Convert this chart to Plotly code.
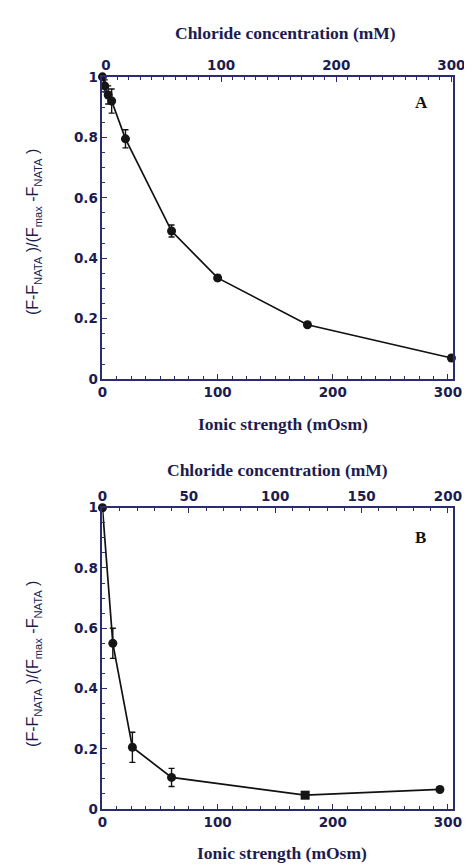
import plotly.graph_objects as go

# Panel A data
ionic_a = [0, 2, 5, 8, 20, 60, 100, 178, 303]
frac_a = [1.0, 0.97, 0.94, 0.92, 0.795, 0.49, 0.335, 0.18, 0.07]
err_a = [0, 0.02, 0.03, 0.04, 0.03, 0.02, 0.01, 0.0, 0.0]

# Panel B data
ionic_b = [0, 9, 26, 60, 176, 293]
frac_b = [1.0, 0.55, 0.205, 0.105, 0.046, 0.065]
err_b = [0, 0.05, 0.05, 0.03, 0, 0]
symbols_b = ["circle", "circle", "circle", "circle", "square", "circle"]

ionic_ticks = [0, 100, 200, 300]
chloride_ticks_a = [0, 100, 200, 300]
chloride_ticks_b = [0, 50, 100, 150, 200]
y_ticks = [0, 0.2, 0.4, 0.6, 0.8, 1]
y_ticktext = ["0", "0.2", "0.4", "0.6", "0.8", "1"]

W, H = 472, 865
TXT = "#1c1c50"
AX = "#2b2b70"

fig = go.Figure()

fig.add_trace(go.Scatter(
    x=ionic_a, y=frac_a, mode="lines+markers", xaxis="x", yaxis="y",
    line=dict(color="#111111", width=1.7),
    marker=dict(color="#151515", size=9, symbol="circle"),
    error_y=dict(type="data", array=err_a, color="#111111", thickness=1.4, width=3),
    cliponaxis=False, showlegend=False))
fig.add_trace(go.Scatter(x=[0], y=[0], xaxis="x2", yaxis="y", mode="markers",
                         marker=dict(opacity=0), showlegend=False, hoverinfo="skip"))

fig.add_trace(go.Scatter(
    x=ionic_b, y=frac_b, mode="lines+markers", xaxis="x3", yaxis="y2",
    line=dict(color="#111111", width=1.7),
    marker=dict(color="#151515", size=9, symbol=symbols_b),
    error_y=dict(type="data", array=err_b, color="#111111", thickness=1.4, width=3),
    cliponaxis=False, showlegend=False))
fig.add_trace(go.Scatter(x=[0], y=[0], xaxis="x4", yaxis="y2", mode="markers",
                         marker=dict(opacity=0), showlegend=False, hoverinfo="skip"))

dom_x = [93 / W, 457 / W]
dom_a = [1 - 370 / H, 1 - 62 / H]
dom_b = [1 - 808 / H, 1 - 501 / H]

tickfont = dict(family="DejaVu Sans", size=13.5, color=TXT, weight="bold")

def xax(rng, tickvals, ticktext, side, anchor, overlaying=None, minor_dt=10):
    d = dict(range=rng, domain=dom_x, anchor=anchor, side=side,
             tickmode="array", tickvals=tickvals, ticktext=ticktext,
             ticks="inside", ticklen=5, tickwidth=1.2, tickcolor=AX,
             showline=True, linecolor=AX, linewidth=1.6,
             showgrid=False, zeroline=False, tickfont=tickfont,
             minor=dict(ticks="inside", dtick=minor_dt, ticklen=3, tickcolor=AX, showgrid=False),
             fixedrange=True)
    if overlaying:
        d["overlaying"] = overlaying
    return d

def yax(domain, anchor):
    return dict(range=[0, 1], domain=domain, anchor=anchor,
                tickmode="array", tickvals=y_ticks, ticktext=y_ticktext,
                ticks="inside", ticklen=5, tickwidth=1.2, tickcolor=AX,
                showline=True, linecolor=AX, linewidth=1.8, mirror=True,
                showgrid=False, zeroline=False, tickfont=tickfont,
                minor=dict(ticks="inside", dtick=0.05, ticklen=3, tickcolor=AX, showgrid=False),
                fixedrange=True)

fig.update_layout(
    width=W, height=H,
    margin=dict(l=0, r=0, t=0, b=0),
    paper_bgcolor="white", plot_bgcolor="white",
    xaxis=xax([0, 304], ionic_ticks, [str(v) for v in ionic_ticks], "bottom", "y", minor_dt=12.5),
    xaxis2=xax([-3, 301], chloride_ticks_a, [str(v) for v in chloride_ticks_a], "top", "y", overlaying="x", minor_dt=10),
    xaxis3=xax([0, 304], ionic_ticks, [str(v) for v in ionic_ticks], "bottom", "y2", minor_dt=12.5),
    xaxis4=xax([0, 304 * 2 / 3], chloride_ticks_b, [str(v) for v in chloride_ticks_b], "top", "y2", overlaying="x3", minor_dt=10),
    yaxis=yax(dom_a, "x"),
    yaxis2=yax(dom_b, "x3"),
)

serif_bold = dict(family="Liberation Serif", size=17.5, color=TXT)
ytitle = "(F-F<sub>NATA</sub> )/(F<sub>max</sub> -F<sub>NATA</sub> )"

def ann(text, xpx, ypx, font, angle=0):
    fig.add_annotation(text=text, x=xpx / W, y=1 - ypx / H, xref="paper", yref="paper",
                       showarrow=False, font=font, textangle=angle,
                       xanchor="center", yanchor="middle")

ann("<b>Chloride concentration (mM)</b>", 283, 17, serif_bold)
ann("<b>Ionic strength (mOsm)</b>", 281, 416, serif_bold)
ann("<b>Chloride concentration (mM)</b>", 275, 463, serif_bold)
ann("<b>Ionic strength (mOsm)</b>", 280, 853, serif_bold)
ann("<b>A</b>", 425, 88, dict(family="Liberation Serif", size=17, color="#111111"))
ann("<b>B</b>", 424, 531, dict(family="Liberation Serif", size=17, color="#111111"))
ann(ytitle, 22, 220, dict(family="Liberation Sans", size=16, color=TXT), angle=-90)
ann(ytitle, 22, 660, dict(family="Liberation Sans", size=16, color=TXT), angle=-90)

fig.write_html("out.html")
